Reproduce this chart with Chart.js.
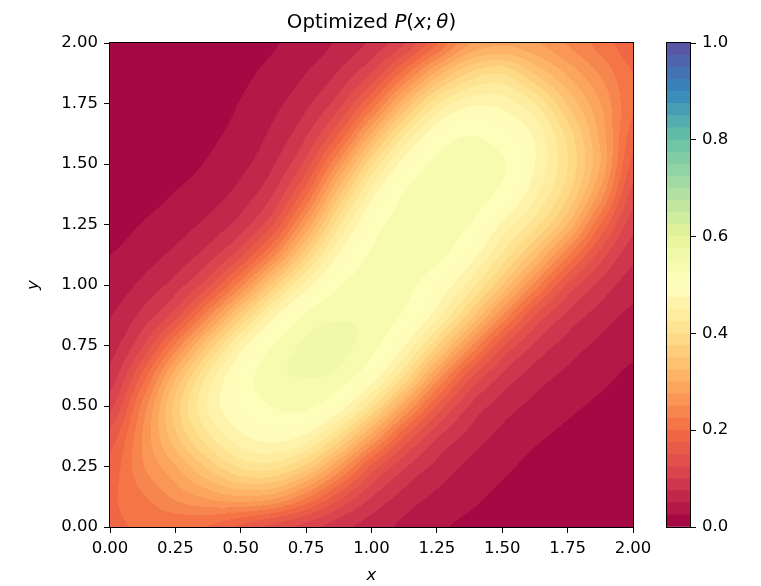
<!DOCTYPE html>
<html><head><meta charset="utf-8">
<script src="https://cdn.jsdelivr.net/npm/chart.js@4.4.1/dist/chart.umd.min.js"></script>
<style>
html,body{margin:0;padding:0;background:#fff;}
#wrap{position:relative;width:761px;height:586px;overflow:hidden;}
#main{position:absolute;left:0;top:0;}
#cbar{position:absolute;left:640px;top:0;}
</style></head><body>
<div id="wrap"><canvas id="main" width="761" height="586"></canvas><canvas id="cbar" width="121" height="586"></canvas></div>
<script>
// grid node coordinates (x and y, 0..2 step 0.125)
const xNodes = [0,0.125,0.25,0.375,0.5,0.625,0.75,0.875,1,1.125,1.25,1.375,1.5,1.625,1.75,1.875,2];
const yNodes = [0,0.125,0.25,0.375,0.5,0.625,0.75,0.875,1,1.125,1.25,1.375,1.5,1.625,1.75,1.875,2];
// P(x;theta), one row per y node (bottom to top)
const row00 = [.195,.204,.206,.198,.169,.141,.114,.085,.063,.044,.029,.020,.014,.009,.006,.004,.003];
const row01 = [.196,.222,.256,.281,.297,.286,.232,.160,.101,.066,.045,.031,.020,.014,.009,.006,.004];
const row02 = [.184,.247,.298,.356,.405,.411,.365,.274,.169,.104,.068,.044,.030,.019,.013,.009,.007];
const row03 = [.160,.251,.344,.419,.469,.488,.469,.396,.287,.176,.104,.067,.043,.029,.020,.014,.010];
const row04 = [.118,.233,.359,.452,.501,.526,.531,.492,.408,.287,.172,.098,.063,.043,.030,.021,.015];
const row05 = [.084,.184,.316,.429,.505,.543,.551,.544,.496,.401,.270,.159,.096,.063,.044,.031,.021];
const row06 = [.064,.123,.230,.352,.460,.526,.554,.555,.536,.477,.377,.259,.154,.096,.064,.044,.031];
const row07 = [.049,.083,.138,.241,.362,.466,.529,.547,.543,.520,.461,.365,.250,.150,.094,.064,.044];
const row08 = [.036,.056,.087,.142,.241,.362,.462,.523,.537,.534,.500,.440,.350,.241,.146,.093,.062];
const row09 = [.025,.038,.057,.087,.142,.241,.371,.478,.528,.537,.535,.490,.420,.335,.230,.139,.083];
const row10 = [.017,.026,.038,.057,.087,.150,.277,.418,.507,.537,.541,.525,.470,.410,.323,.200,.111];
const row11 = [.012,.017,.026,.038,.060,.101,.196,.344,.464,.526,.542,.541,.515,.455,.380,.265,.139];
const row12 = [.008,.011,.017,.027,.043,.073,.135,.259,.395,.489,.532,.538,.529,.475,.400,.300,.167];
const row13 = [.005,.008,.012,.020,.033,.056,.096,.175,.302,.420,.496,.523,.505,.469,.390,.293,.189];
const row14 = [.003,.005,.009,.015,.026,.043,.069,.115,.203,.321,.421,.468,.465,.425,.347,.276,.203];
const row15 = [.002,.004,.007,.012,.020,.032,.050,.078,.126,.212,.309,.378,.398,.347,.295,.247,.200];
const row16 = [.002,.003,.005,.009,.015,.023,.036,.054,.081,.123,.196,.274,.294,.279,.248,.215,.183];
const pRows = [row00,row01,row02,row03,row04,row05,row06,row07,row08,row09,row10,row11,row12,row13,row14,row15,row16];

const xTicks = [0,0.25,0.5,0.75,1,1.25,1.5,1.75,2];
const yTicks = [0,0.25,0.5,0.75,1,1.25,1.5,1.75,2];
const cbarTicks = [0,0.2,0.4,0.6,0.8,1.0];
const levelStep = 0.025;
const nLevels = 40;

const spectral = [[158,1,66],[213,62,79],[244,109,67],[253,174,97],[254,224,139],[255,255,191],[230,245,152],[171,221,164],[102,194,165],[50,136,189],[94,79,162]];
function cmap(t){
  t = Math.max(0,Math.min(1,t));
  const f = t*10, i = Math.min(9,Math.floor(f)), r = f-i;
  const a = spectral[i], b = spectral[i+1];
  return [Math.round(a[0]+(b[0]-a[0])*r),Math.round(a[1]+(b[1]-a[1])*r),Math.round(a[2]+(b[2]-a[2])*r)];
}
const levelColors = [];
for(let b=0;b<nLevels;b++){ levelColors.push(cmap((b+0.5)*levelStep)); }

const FONT = "'DejaVu Sans', 'Liberation Sans', sans-serif";

const nodes = [];
yNodes.forEach((yv,j)=>xNodes.forEach((xv,i)=>nodes.push({x:xv,y:yv,v:pRows[j][i]})));

function cr(p0,p1,p2,p3,t){
  return p1 + 0.5*t*(p2-p0 + t*(2*p0-5*p1+4*p2-p3 + t*(3*(p1-p2)+p3-p0)));
}
function sampleGrid(g, nx, ny, fx, fy){
  const ix = Math.floor(fx), iy = Math.floor(fy);
  const tx = fx-ix, ty = fy-iy;
  const col = [];
  for(let m=-1;m<=2;m++){
    const yy = Math.max(0,Math.min(ny-1,iy+m));
    const row = g[yy];
    const v = [];
    for(let n=-1;n<=2;n++){ v.push(row[Math.max(0,Math.min(nx-1,ix+n))]); }
    col.push(cr(v[0],v[1],v[2],v[3],tx));
  }
  return cr(col[0],col[1],col[2],col[3],ty);
}

const contourPlugin = {
  id:'contourFill',
  beforeDatasetsDraw(chart){
    const {ctx, chartArea:a, scales:{x,y}} = chart;
    const pts = chart.data.datasets[0].data;
    const nx = xNodes.length, ny = yNodes.length;
    const g = [];
    for(let j=0;j<ny;j++){ g.push(pts.slice(j*nx,(j+1)*nx).map(p=>p.v)); }
    const L = Math.round(a.left), T = Math.round(a.top), R = Math.round(a.right), B = Math.round(a.bottom);
    const w = R-L, h = B-T;
    const img = ctx.createImageData(w,h);
    const dx = xNodes[1]-xNodes[0], dy = yNodes[1]-yNodes[0];
    for(let py=0;py<h;py++){
      const yv = y.getValueForPixel(T+py+0.5);
      const fy = Math.max(0,Math.min(ny-1-1e-9,(yv-yNodes[0])/dy));
      for(let px=0;px<w;px++){
        const xv = x.getValueForPixel(L+px+0.5);
        const fx = Math.max(0,Math.min(nx-1-1e-9,(xv-xNodes[0])/dx));
        const v = sampleGrid(g,nx,ny,fx,fy);
        let b = Math.floor(v/levelStep); if(b<0)b=0; if(b>nLevels-1)b=nLevels-1;
        const c = levelColors[b];
        const k = (py*w+px)*4;
        img.data[k]=c[0]; img.data[k+1]=c[1]; img.data[k+2]=c[2]; img.data[k+3]=255;
      }
    }
    ctx.putImageData(img,L,T);
  },
  afterDatasetsDraw(chart){
    const {ctx, chartArea:a} = chart;
    ctx.save();
    ctx.strokeStyle='#000'; ctx.lineWidth=1;
    ctx.strokeRect(Math.round(a.left)-0.5, Math.round(a.top)-0.5, Math.round(a.right)-Math.round(a.left)+1, Math.round(a.bottom)-Math.round(a.top)+1);
    ctx.restore();
  },
  afterDraw(chart){
    const {ctx, chartArea:a} = chart;
    ctx.save();
    ctx.fillStyle='#000';
    const pieces = [["Optimized ","normal"],["P","italic"],["(","normal"],["x","italic"],[";","normal"],["\u2009","normal"],["\u03B8","italic"],[")","normal"]];
    const fs = 19.8;
    let total = 0;
    pieces.forEach(p=>{ ctx.font = p[1]+" "+fs+"px "+FONT; p.push(ctx.measureText(p[0]).width); total+=p[2]; });
    let cx = (a.left+a.right)/2 - total/2;
    ctx.textBaseline='alphabetic'; ctx.textAlign='left';
    pieces.forEach(p=>{ ctx.font = p[1]+" "+fs+"px "+FONT; ctx.fillText(p[0],cx,27.7); cx+=p[2]; });
    ctx.font = "italic 16.5px "+FONT;
    ctx.textAlign='center';
    ctx.fillText("x",(a.left+a.right)/2,580);
    ctx.translate(38,(a.top+a.bottom)/2);
    ctx.rotate(-Math.PI/2);
    ctx.textBaseline='alphabetic';
    ctx.fillText("y",0,0);
    ctx.restore();
  }
};

const axisCommon = (ticks)=>({
  type:'linear', min:0, max:2,
  afterBuildTicks: s=>{ s.ticks = ticks.map(v=>({value:v})); },
  ticks:{ callback:v=>Number(v).toFixed(2), font:{family:FONT,size:16.5}, color:'#000', autoSkip:false, maxRotation:0, padding:6 },
  grid:{ drawOnChartArea:false, drawTicks:true, tickLength:6, tickColor:'#000', tickWidth:1 },
  border:{ display:false }
});

const xAxis = axisCommon(xTicks);
xAxis.position='bottom';
xAxis.afterFit = s=>{ s.height = 59; };
const yAxis = axisCommon(yTicks);
yAxis.position='left';
yAxis.afterFit = s=>{ s.width = 110; };

new Chart(document.getElementById('main'),{
  type:'scatter',
  data:{ datasets:[{ data:nodes, pointRadius:0, pointHoverRadius:0, showLine:false }] },
  options:{
    responsive:false, animation:false, devicePixelRatio:1,
    layout:{ padding:{ left:0, right:761-633, top:43, bottom:0 } },
    plugins:{ legend:{display:false}, tooltip:{enabled:false} },
    events:[],
    scales:{ x:xAxis, y:yAxis }
  },
  plugins:[contourPlugin]
});

const cbDatasets = levelColors.map((c,b)=>({
  data:[levelStep], backgroundColor:'rgb('+c.join(',')+')', borderWidth:0, barPercentage:1, categoryPercentage:1, stack:'s'
}));
const frame = { id:'cbFrame', afterDatasetsDraw(chart){ const {ctx,chartArea:a}=chart; ctx.save(); ctx.strokeStyle='#000'; ctx.lineWidth=1; ctx.strokeRect(Math.round(a.left)-0.5,Math.round(a.top)-0.5,Math.round(a.right)-Math.round(a.left)+1,Math.round(a.bottom)-Math.round(a.top)+1); ctx.restore(); } };
new Chart(document.getElementById('cbar'),{
  type:'bar',
  data:{ labels:[''], datasets:cbDatasets },
  options:{
    responsive:false, animation:false, devicePixelRatio:1,
    layout:{ padding:{ left:27, right:0, top:43, bottom:59 } },
    plugins:{ legend:{display:false}, tooltip:{enabled:false} },
    events:[],
    scales:{
      x:{ display:false, stacked:true },
      y:{ stacked:true, position:'right', min:0, max:1,
          afterBuildTicks: s=>{ s.ticks = cbarTicks.map(v=>({value:v})); },
          ticks:{ callback:v=>Number(v).toFixed(1), font:{family:FONT,size:16.5}, color:'#000', padding:6 },
          grid:{ drawOnChartArea:false, drawTicks:true, tickLength:6, tickColor:'#000' },
          border:{ display:false },
          afterFit: s=>{ s.width = 71; } }
    }
  },
  plugins:[frame]
});
</script>
</body></html>
